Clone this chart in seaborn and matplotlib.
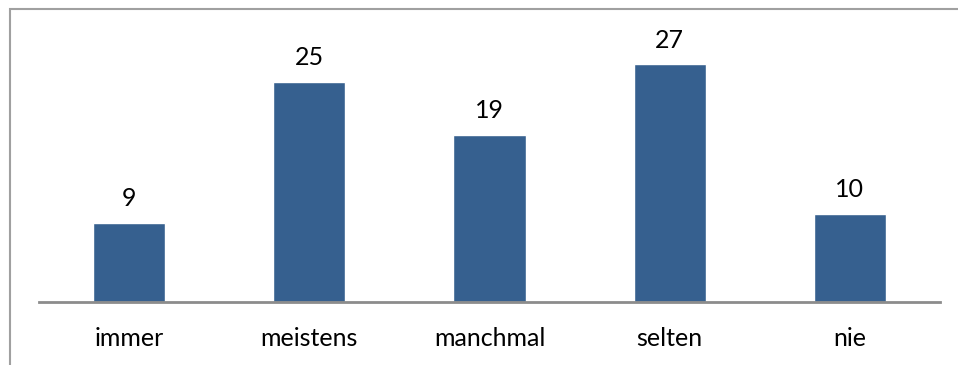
import matplotlib
matplotlib.use("Agg")
import matplotlib.pyplot as plt
import seaborn as sns
import pandas as pd
from matplotlib.patches import Rectangle

categories = ["immer", "meistens", "manchmal", "selten", "nie"]
values = [9, 25, 19, 27, 10]

sns.set_theme(style="white")
plt.rcParams["font.family"] = ["Lato", "DejaVu Sans"]

df = pd.DataFrame({"kategorie": categories, "anzahl": values})

fig = plt.figure(figsize=(9.58, 3.65), dpi=100)
ax = fig.add_axes([39 / 958, 1 - 302 / 365, (940 - 39) / 958, (302 - 39.5) / 365])

sns.barplot(data=df, x="kategorie", y="anzahl", color="#36608F",
            saturation=1, width=0.4, ax=ax)

ax.set_xlim(-0.5, 4.5)
ax.set_ylim(0, 29.8)
ax.set_xlabel("")
ax.set_ylabel("")
ax.set_yticks([])
for side in ("top", "right", "left"):
    ax.spines[side].set_visible(False)
ax.spines["bottom"].set_color("#8C8C8C")
ax.spines["bottom"].set_linewidth(2)
ax.tick_params(axis="x", length=0, pad=18, labelsize=18, labelcolor="black")

for i, v in enumerate(values):
    ax.annotate(str(v), (i, v), xytext=(0, 9), textcoords="offset points",
                ha="center", va="bottom", fontsize=18, color="black")

# outer chart frame (only its left and top edges fall inside the image)
fig.patches.append(Rectangle((10 / 958, -0.2), 1.2, 1 - 9 / 365 + 0.2,
                             transform=fig.transFigure, fill=False,
                             edgecolor="#A0A0A0", linewidth=1.5))

fig.savefig("out.png", dpi=100, facecolor="white")
